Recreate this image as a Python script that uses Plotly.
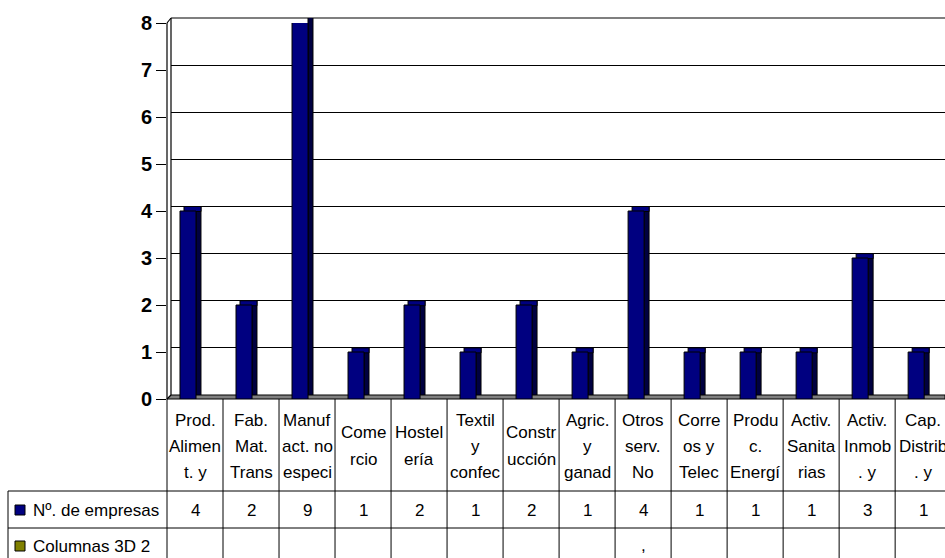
import plotly.graph_objects as go

# ---------------- data ----------------
categories = ["Prod.\nAlimen\nt. y", "Fab.\nMat.\nTrans", "Manuf\nact. no\nespeci",
              "Come\nrcio", "Hostel\nería", "Textil\ny\nconfec", "Constr\nucción",
              "Agric.\ny\nganad", "Otros\nserv.\nNo", "Corre\nos y\nTelec",
              "Produ\nc.\nEnergí", "Activ.\nSanita\nrias", "Activ.\nInmob\n. y",
              "Cap.\nDistrib\n. y"]
empresas = [4, 2, 9, 1, 2, 1, 2, 1, 4, 1, 1, 1, 3, 1]
columnas_3d_2 = ["", "", "", "", "", "", "", "", ",", "", "", "", "", ""]
series_names = ["Nº. de empresas", "Columnas 3D 2"]
series_colors = ["#000080", "#808000"]
y_ticks = [0, 1, 2, 3, 4, 5, 6, 7, 8]

# ---------------- geometry helpers ----------------
W, H = 945, 558
def py(p):
    return 1 - p / H

FN = "Liberation Sans Narrow, Arial Narrow, Liberation Sans, Arial, sans-serif"
FB = "Liberation Sans, Arial, sans-serif"
TS = 17
NAVY = series_colors[0]
x_idx = list(range(len(categories)))
DEPTH = 5 / 47.125  # 3D top depth in back-axis units

fig = go.Figure()

# back plane (side and top faces of bars)
fig.add_trace(go.Bar(x=x_idx, y=empresas, xaxis="x", yaxis="y",
                     width=0.089, offset=-0.054,
                     marker=dict(color="#000040", line=dict(color="black", width=1)),
                     showlegend=False, hoverinfo="skip"))
fig.add_trace(go.Bar(x=x_idx, y=[DEPTH] * len(empresas),
                     base=[v - DEPTH for v in empresas], xaxis="x", yaxis="y",
                     width=0.304, offset=-0.268,
                     marker=dict(color=NAVY, line=dict(color="black", width=1)),
                     showlegend=False, hoverinfo="skip"))
# front faces
fig.add_trace(go.Bar(x=x_idx, y=empresas, xaxis="x2", yaxis="y2",
                     width=0.286, offset=-0.268, name=series_names[0],
                     marker=dict(color=NAVY, line=dict(color="black", width=1)),
                     showlegend=False))

shapes = []
# floor
shapes.append(dict(type="path", xref="paper", yref="paper", layer="below",
                   path=f"M {167/W},{py(399)} L 1,{py(399)} L 1,{py(395)} L {171/W},{py(395)} Z",
                   fillcolor="#808080", line=dict(color="black", width=1)))
# top back edge
shapes.append(dict(type="line", xref="paper", yref="paper", layer="below",
                   x0=171 / W, x1=1, y0=py(18), y1=py(18),
                   line=dict(color="black", width=1.2)))
# left wall
for (x0, y0, x1, y1) in [(167, 399, 167, 23), (171, 395, 171, 18), (167, 23, 171, 18),
                         (167, 399, 171, 395)]:
    shapes.append(dict(type="line", xref="paper", yref="paper",
                       x0=x0 / W, y0=py(y0), x1=x1 / W, y1=py(y1),
                       line=dict(color="black", width=1.2)))
# table vertical lines
for i in range(1, len(categories) + 1):
    shapes.append(dict(type="line", xref="x2", yref="paper", x0=i - 0.5, x1=i - 0.5,
                       y0=0, y1=py(399), line=dict(color="black", width=1)))
shapes.append(dict(type="line", xref="paper", yref="paper", x0=167 / W, x1=167 / W,
                   y0=0, y1=py(399), line=dict(color="black", width=1)))
# table horizontal lines
for yy in [491, 528]:
    shapes.append(dict(type="line", xref="paper", yref="paper", x0=8 / W, x1=1,
                       y0=py(yy), y1=py(yy), line=dict(color="black", width=1)))
shapes.append(dict(type="line", xref="paper", yref="paper", x0=8 / W, x1=8 / W,
                   y0=0, y1=py(491), line=dict(color="black", width=1)))
# legend keys in table
for k, yc in enumerate([510, 546]):
    shapes.append(dict(type="rect", xref="paper", yref="paper",
                       x0=15 / W, x1=25 / W, y0=py(yc + 5), y1=py(yc - 5),
                       fillcolor=series_colors[k], line=dict(color="black", width=1)))

annotations = []
# category labels
for i, lab in enumerate(categories):
    lines = lab.split("\n")
    ys = [420, 446, 472] if len(lines) == 3 else [432, 459]
    for ln, yy in zip(lines, ys):
        annotations.append(dict(text=ln, x=i, xref="x2", y=py(yy), yref="paper",
                                showarrow=False, xanchor="center", yanchor="middle",
                                font=dict(family=FN, size=TS, color="black")))
# values rows
for i, v in enumerate(empresas):
    annotations.append(dict(text=str(v), x=i, xref="x2", y=py(510), yref="paper",
                            showarrow=False, xanchor="center", yanchor="middle",
                            font=dict(family=FN, size=TS, color="black")))
for i, v in enumerate(columnas_3d_2):
    if v:
        annotations.append(dict(text=v, x=i, xref="x2", y=py(545), yref="paper",
                                showarrow=False, xanchor="center", yanchor="middle",
                                font=dict(family=FN, size=TS, color="black")))
# row headers
for k, yc in enumerate([510, 546]):
    annotations.append(dict(text=series_names[k], x=31 / W, xref="paper", y=py(yc),
                            yref="paper", xanchor="left", yanchor="middle", showarrow=False,
                            font=dict(family=FN, size=TS, color="black")))

fig.update_layout(
    width=W, height=H, margin=dict(l=0, r=0, t=0, b=0, autoexpand=False),
    paper_bgcolor="white", plot_bgcolor="rgba(0,0,0,0)",
    barmode="overlay", showlegend=False,
    xaxis=dict(domain=[171 / W, 1], range=[-0.5, 13.39 - 4 / 56], anchor="y",
               showgrid=False, zeroline=False, showticklabels=False, ticks="",
               showline=False, automargin=False),
    yaxis=dict(domain=[py(395), py(18)], range=[0, 8], anchor="x", tickvals=y_ticks,
               showgrid=True, gridcolor="black", gridwidth=1, zeroline=False,
               showticklabels=False, ticks="", showline=False, automargin=False),
    xaxis2=dict(domain=[167 / W, 1], range=[-0.5, 13.39], anchor="y2",
                showgrid=False, zeroline=False, showticklabels=False, ticks="",
                showline=False, automargin=False),
    yaxis2=dict(domain=[py(399), py(23)], range=[0, 8], anchor="x2", tickvals=y_ticks,
                showgrid=False, zeroline=False, showline=False, automargin=False,
                ticks="outside", ticklen=10, tickcolor="black", tickwidth=1,
                tickfont=dict(family=FB, size=20, color="black", weight="bold")),
    shapes=shapes, annotations=annotations,
)

fig.write_html("out.html", config={"displayModeBar": False},
               post_script="document.body.style.margin='0px';")
